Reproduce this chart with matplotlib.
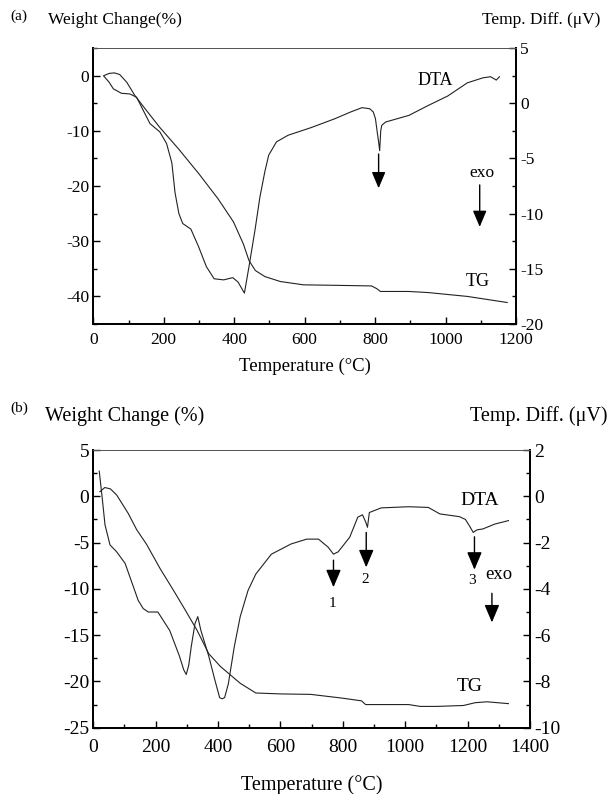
import matplotlib
matplotlib.use("Agg")
import matplotlib.pyplot as plt
from matplotlib.ticker import MultipleLocator

plt.rcParams['font.family'] = ['Liberation Serif', 'DejaVu Serif']
plt.rcParams['axes.unicode_minus'] = False

# ---- panel (a) data ----
a_tg_t = [30, 45, 60, 75, 95, 118, 152, 189, 241, 300, 354, 398, 426, 442, 460,
          487, 531, 597, 700, 790, 805, 815, 896, 951, 1062, 1175]
a_tg_w = [0, 0.4, 0.5, 0.2, -1.2, -3.6, -6.4, -9.4, -13.2, -17.8, -22.3, -26.5,
          -30.5, -33.5, -35.3, -36.4, -37.3, -37.9, -38.0, -38.1, -38.6, -39.1,
          -39.1, -39.3, -40.0, -41.1]
a_dta_t = [30, 45, 57, 80, 104, 123, 142, 161, 189, 208, 223, 232, 243, 254, 277,
           299, 321, 343, 370, 396, 411, 429, 442, 459, 473, 487, 498, 520, 553,
           619, 686, 730, 763, 785, 795, 801, 806, 810, 813, 816, 819, 830, 896,
           951, 1006, 1062, 1106, 1128, 1144, 1153]
a_dta_v = [2.45, 1.9, 1.3, 0.9, 0.84, 0.54, -0.66, -1.85, -2.6, -3.65, -5.4, -8.1,
           -10.0, -10.9, -11.4, -13.0, -14.8, -15.9, -16.0, -15.8, -16.2, -17.2,
           -14.8, -11.5, -8.5, -6.2, -4.7, -3.5, -2.9, -2.2, -1.4, -0.8, -0.4,
           -0.5, -0.8, -1.4, -2.6, -3.5, -4.3, -2.5, -2.0, -1.7, -1.1, -0.2, 0.65,
           1.85, 2.3, 2.4, 2.1, 2.4]
a_arrows = [(810, -4.6, -7.7), (1097, -7.4, -11.2)]   # x, start, tip (uV axis)

# ---- panel (b) data ----
b_tg_t = [21, 37, 55, 75, 112, 139, 171, 214, 256, 295, 333, 370, 408, 471, 521,
          600, 697, 797, 860, 873, 950, 1011, 1048, 1100, 1187, 1224, 1262, 1331]
b_tg_w = [0.5, 0.95, 0.8, 0.14, -1.85, -3.6, -5.2, -7.8, -10.1, -12.3, -14.5,
          -17.0, -18.4, -20.2, -21.25, -21.35, -21.4, -21.8, -22.1, -22.5, -22.5,
          -22.5, -22.7, -22.7, -22.6, -22.3, -22.2, -22.4]
b_dta_t = [19, 28, 37.5, 53.5, 75, 102, 123, 144, 160, 176, 207, 245, 276, 290,
           298, 306, 314, 326, 335, 345, 370, 389, 405, 413, 421, 433, 452, 471,
           496, 521, 571, 634, 684, 722, 753, 770, 785, 822, 848, 863, 873, 879,
           885, 923, 1011, 1074, 1111, 1174, 1193, 1207, 1218, 1230, 1249, 1287,
           1331]
b_dta_v = [1.09, 0.0, -1.23, -2.1, -2.4, -2.9, -3.7, -4.5, -4.85, -5.0, -5.0,
           -5.8, -6.9, -7.5, -7.7, -7.3, -6.5, -5.5, -5.2, -5.8, -6.9, -7.9, -8.7,
           -8.75, -8.7, -8.1, -6.5, -5.2, -4.07, -3.36, -2.5, -2.06, -1.85, -1.85,
           -2.2, -2.5, -2.4, -1.77, -0.9, -0.8, -1.1, -1.34, -0.7, -0.5, -0.45,
           -0.48, -0.76, -0.88, -1.0, -1.3, -1.56, -1.45, -1.41, -1.2, -1.05]
b_arrows = [(770, -2.76, -3.93), (875, -1.56, -3.07), (1222, -1.75, -3.17),
            (1278, -4.19, -5.45)]
b_nums = [('1', 768, -4.64), ('2', 873, -3.58), ('3', 1213, -3.62)]

fig = plt.figure(figsize=(6.11, 7.94), dpi=100)
lc = '#222222'


def style(ax, ax2, xmaj, ymaj, ymin, y2maj, y2min, fs, xpad):
    ax.xaxis.set_major_locator(MultipleLocator(xmaj))
    ax.xaxis.set_minor_locator(MultipleLocator(xmaj / 2))
    ax.yaxis.set_major_locator(MultipleLocator(ymaj))
    ax.yaxis.set_minor_locator(MultipleLocator(ymin))
    ax2.yaxis.set_major_locator(MultipleLocator(y2maj))
    ax2.yaxis.set_minor_locator(MultipleLocator(y2min))
    for a in (ax, ax2):
        a.tick_params(which='major', direction='in', length=5, width=1,
                      labelsize=fs, pad=3)
        a.tick_params(which='minor', direction='in', length=3, width=1)
        for s in a.spines.values():
            s.set_linewidth(1.3)
        a.spines['top'].set_linewidth(0.7)
        a.spines['top'].set_color('#555555')
    ax.tick_params(top=False, which='both')
    ax.tick_params(axis='x', which='major', pad=xpad)


def arrow(ax, x, y0, y1, ms=11):
    ax.annotate('', xy=(x, y1), xytext=(x, y0),
                arrowprops=dict(arrowstyle='-|>,head_length=0.9,head_width=0.38',
                                color='k', lw=1.0, mutation_scale=ms,
                                shrinkA=0, shrinkB=0))


# ---------- (a) ----------
ax = fig.add_axes([0.1527, 0.5919, 0.6918, 0.3476])
ax2 = ax.twinx()
ax.plot(a_tg_t, a_tg_w, color=lc, lw=0.8)
ax2.plot(a_dta_t, a_dta_v, color=lc, lw=0.8)
ax.set_xlim(0, 1200)
ax.set_ylim(-45, 5)
ax2.set_ylim(-20, 5)
style(ax, ax2, 200, 10, 5, 5, 2.5, 12.5, 6)
ax.set_xlabel('Temperature (°C)', fontsize=13.5, labelpad=7)
for x, y0, y1 in a_arrows:
    arrow(ax2, x, y0, y1)
ax2.text(970, 2.1, 'DTA', fontsize=13, ha='center', va='center')
ax2.text(1102, -6.35, 'exo', fontsize=12.5, ha='center', va='center')
ax.text(1092, -37.3, 'TG', fontsize=13, ha='center', va='center')
fig.text(10 / 611, 1 - 16 / 794, '(a)', fontsize=11, va='center')
fig.text(48 / 611, 1 - 20 / 794, 'Weight Change(%)', fontsize=12.5, va='center')
fig.text(600 / 611, 1 - 20 / 794, 'Temp. Diff. (μV)', fontsize=12.5,
         va='center', ha='right')

# ---------- (b) ----------
bx = fig.add_axes([0.1527, 0.0835, 0.7147, 0.3497])
bx2 = bx.twinx()
bx.plot(b_tg_t, b_tg_w, color=lc, lw=0.8)
bx2.plot(b_dta_t, b_dta_v, color=lc, lw=0.8)
bx.set_xlim(0, 1400)
bx.set_ylim(-25, 5)
bx2.set_ylim(-10, 2)
style(bx, bx2, 200, 5, 2.5, 2, 1, 14, 8)
bx.set_xlabel('Temperature (°C)', fontsize=14.5, labelpad=14)
for x, y0, y1 in b_arrows:
    arrow(bx2, x, y0, y1, ms=12)
for s, x, y in b_nums:
    bx2.text(x, y, s, fontsize=11, ha='center', va='center')
bx2.text(1240, -0.2, 'DTA', fontsize=14, ha='center', va='center')
bx2.text(1301, -3.39, 'exo', fontsize=13.5, ha='center', va='center')
bx.text(1208, -20.6, 'TG', fontsize=14, ha='center', va='center')
fig.text(10 / 611, 1 - 408 / 794, '(b)', fontsize=11, va='center')
fig.text(45 / 611, 1 - 416 / 794, 'Weight Change (%)', fontsize=14.5, va='center')
fig.text(607 / 611, 1 - 416 / 794, 'Temp. Diff. (μV)', fontsize=14.5,
         va='center', ha='right')

fig.savefig('out.png', dpi=100)
